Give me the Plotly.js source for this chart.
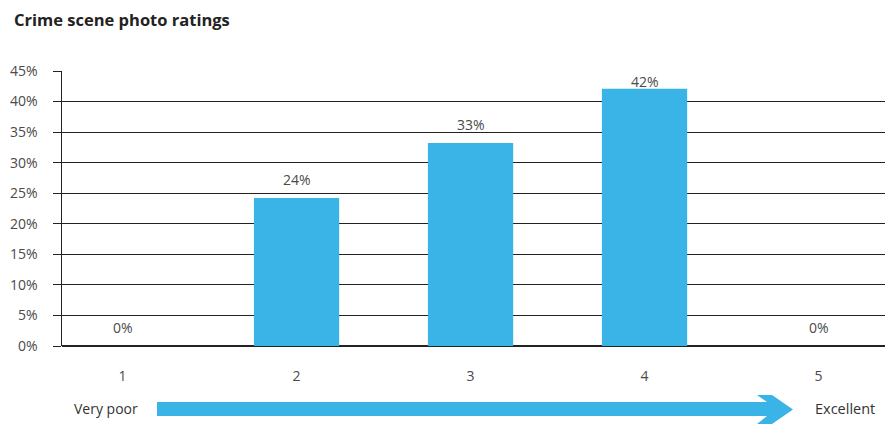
<!DOCTYPE html>
<html><head><meta charset="utf-8">
<script src="https://cdn.plot.ly/plotly-3.0.1.min.js"></script>
<style>html,body{margin:0;padding:0;background:#fff}#chart{width:893px;height:431px}</style>
</head><body><div id="chart"></div>
<script>
const categories = [1, 2, 3, 4, 5];
const tickLabels = ["1", "2", "3", "4", "5"];
const ratingShare = [0, 24.2, 33.2, 42.1, 0];
const shareLabels = ["0%", "24%", "33%", "42%", "0%"];
const scaleEnds = ["Very poor", "Excellent"];

const W = 893, H = 431;
const M = {l: 62, r: 8, t: 71, b: 85};
const plotH = H - M.t - M.b;
const yMax = 45;
const pxPerUnit = plotH / yMax;
const barColor = "#3AB4E6";
const textColor = "#4a4a4a";
const font = "Open Sans, Segoe UI, sans-serif";

const px = x => (x - M.l) / (W - M.l - M.r);
const py = y => (H - M.b - y) / plotH;

const annotations = categories.map((c, i) => {
  const room = (yMax - ratingShare[i]) * pxPerUnit;
  return {
    x: c, y: ratingShare[i], xref: "x", yref: "y",
    text: shareLabels[i], showarrow: false, yanchor: "middle",
    yshift: Math.min(19, room - 11),
    font: {family: font, size: 14, color: textColor}
  };
});
annotations.push({
  xref: "paper", yref: "paper", x: px(140), y: py(408), xanchor: "right", yanchor: "middle",
  text: scaleEnds[0], showarrow: false, font: {family: font, size: 14, color: "#333"}
});
annotations.push({
  xref: "paper", yref: "paper", x: px(813), y: py(408), xanchor: "left", yanchor: "middle",
  text: scaleEnds[1], showarrow: false, font: {family: font, size: 14.5, color: "#333"}
});

const pts = [[157,402],[767,402],[757,395],[772,395],[793,409.5],[772,424],[757,424],[767,416],[157,416]];
const arrowPath = pts.map((p, i) => (i ? "L " : "M ") + px(p[0]) + " " + py(p[1])).join(" ") + " Z";

const trace = {
  type: "bar", x: categories, y: ratingShare,
  marker: {color: barColor, line: {width: 0}},
  width: 0.49, hoverinfo: "skip"
};

const layout = {
  width: W, height: H,
  margin: M,
  paper_bgcolor: "#fff", plot_bgcolor: "#fff",
  showlegend: false,
  title: {
    text: "Crime scene photo ratings", xref: "container", yref: "container",
    x: 14 / W, xanchor: "left", y: 1 - 20 / H, yanchor: "middle",
    font: {family: font, size: 16.5, weight: 700, color: "#222"}
  },
  xaxis: {
    range: [0.652, 5.382], tickvals: categories, ticktext: tickLabels,
    showgrid: false, zeroline: false, showline: false, ticks: "",
    ticklabelstandoff: 20, fixedrange: true,
    tickfont: {family: font, size: 14, color: textColor}
  },
  yaxis: {
    range: [0, yMax], dtick: 5, tick0: 0, ticksuffix: "%",
    showgrid: true, gridcolor: "#222", gridwidth: 1,
    zeroline: true, zerolinecolor: "#222", zerolinewidth: 1.5,
    showline: true, linecolor: "#222", linewidth: 1.5,
    ticks: "outside", ticklen: 8, tickcolor: "#222", tickwidth: 1,
    ticklabelstandoff: 12, fixedrange: true,
    tickfont: {family: font, size: 14, color: textColor}
  },
  shapes: [{
    type: "path", xref: "paper", yref: "paper", path: arrowPath,
    fillcolor: barColor, line: {width: 0}
  }],
  annotations: annotations
};

Plotly.newPlot("chart", [trace], layout, {displayModeBar: false, staticPlot: true});
</script></body></html>
